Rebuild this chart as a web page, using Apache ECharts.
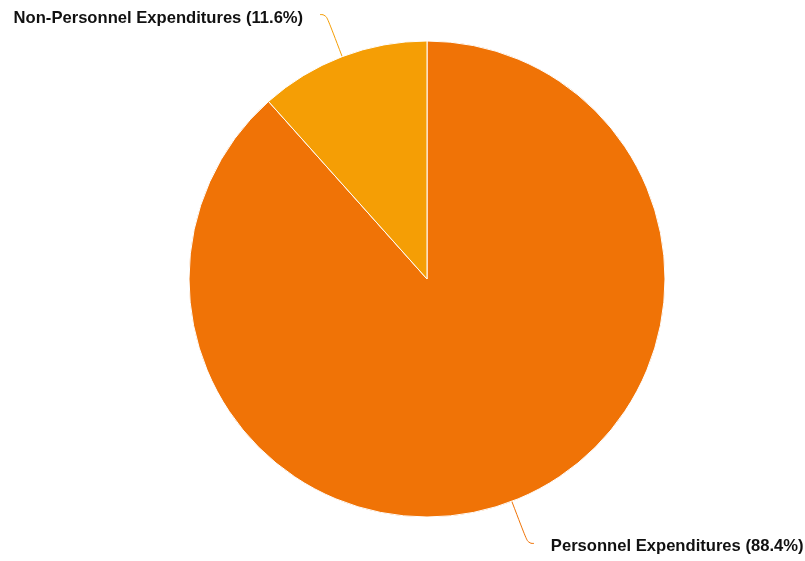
<!DOCTYPE html>
<html>
<head>
<meta charset="utf-8">
<script src="https://cdn.jsdelivr.net/npm/echarts@6/dist/echarts.min.js"></script>
<style>
html, body { margin: 0; padding: 0; background: #ffffff; }
#chart { width: 805px; height: 561px; }
</style>
</head>
<body>
<div id="chart"></div>
<script>
// Expenditure split by category
const categories = ['Personnel Expenditures', 'Non-Personnel Expenditures'];
const shares = [88.4, 11.6];
const colors = ['#F07306', '#F59E05'];

const chart = echarts.init(document.getElementById('chart'), null, { renderer: 'canvas' });

chart.setOption({
  backgroundColor: '#ffffff',
  animation: false,
  series: [{
    type: 'pie',
    center: [427, 279],
    radius: 238,
    startAngle: 90,
    clockwise: true,
    data: categories.map((name, i) => ({
      name: name,
      value: shares[i],
      itemStyle: { color: colors[i] }
    })),
    itemStyle: { borderColor: '#ffffff', borderWidth: 1 },
    label: {
      show: true,
      formatter: p => '{t|' + p.name + ' (' + p.value.toFixed(1) + '%)}',
      overflow: 'none',
      distanceToLabelLine: 17,
      rich: {
        t: {
          fontFamily: 'Liberation Sans, Arial, sans-serif',
          fontWeight: 'bold',
          fontSize: 16.6,
          color: '#111111',
          padding: [7, 0, 0, 0]
        }
      }
    },
    labelLine: {
      show: true,
      smooth: 0.5,
      length: 45,
      length2: 6,
      lineStyle: { width: 1 }
    },
    emphasis: { disabled: true }
  }]
});
</script>
</body>
</html>
